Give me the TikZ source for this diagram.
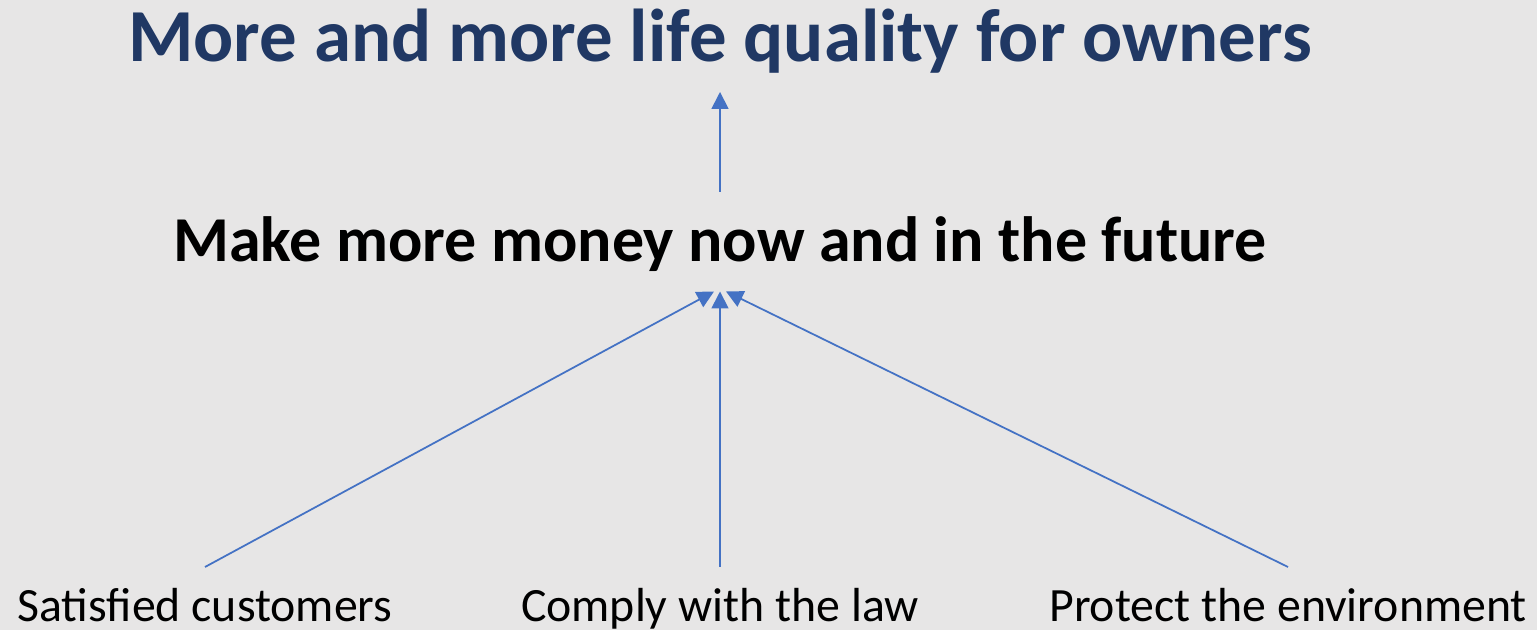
\documentclass[tikz,border=0pt]{standalone}
\usepackage{fontspec}
\setmainfont{Carlito}
\usepackage{tikz}
\usetikzlibrary{arrows.meta}
\definecolor{bgGray}{HTML}{E7E6E6}
\definecolor{titleBlue}{HTML}{203864}
\definecolor{arrowBlue}{HTML}{4472C4}

\begin{document}
\begin{tikzpicture}[
  aim/.style={inner sep=0pt, anchor=base, font=\fontsize{21.3pt}{26pt}\selectfont\bfseries, text=titleBlue},
  means/.style={inner sep=0pt, anchor=base, font=\fontsize{18.2pt}{21pt}\selectfont\bfseries},
  goal/.style={inner sep=0pt, anchor=base, font=\fontsize{13.6pt}{16pt}\selectfont},
  flow/.style={draw=arrowBlue, line width=0.5pt, -{Triangle[length=1.7mm,width=1.7mm]}}
]
\fill[bgGray] (0,0) rectangle (15.37,6.30);
\useasboundingbox (0,0) rectangle (15.37,6.30);

\node[aim] (life) at (7.20,5.68) {More and more life quality for owners};
\node[means] (money) at (7.20,3.68) {Make more money now and in the future};
\node[goal] (sat) at (2.05,0.08) {Satisfied customers};
\node[goal] (law) at (7.20,0.08) {Comply with the law};
\node[goal] (env) at (12.88,0.08) {Protect the environment};

\draw[flow] ([yshift=7mm]money.base) -- ([yshift=-3mm]life.base);
\draw[flow] ([yshift=5.5mm]sat.base) -- ([xshift=-0.6mm,yshift=-2.95mm]money.base);
\draw[flow] ([yshift=5.5mm]law.base) -- ([yshift=-2.95mm]money.base);
\draw[flow] ([yshift=5.5mm]env.base) -- ([xshift=0.6mm,yshift=-2.95mm]money.base);
\end{tikzpicture}
\end{document}
